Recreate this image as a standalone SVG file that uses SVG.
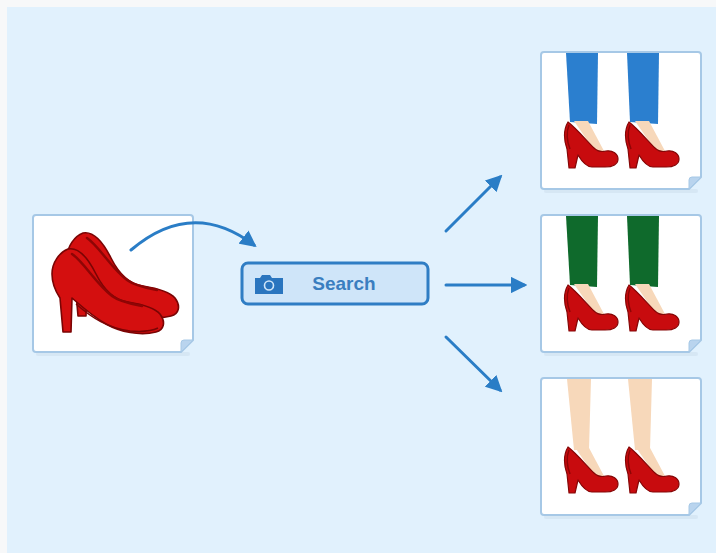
<svg xmlns="http://www.w3.org/2000/svg" xmlns:xlink="http://www.w3.org/1999/xlink" width="716" height="553" viewBox="0 0 716 553">
  <style>
    .card { fill: #ffffff; stroke: #a6c8e6; stroke-width: 2; }
    .fold { fill: #b9d4ee; stroke: #a6c8e6; stroke-width: 1; }
    .shadow { fill: #c9dbe9; opacity: 0.45; }
    .pump { fill: #c80b0e; stroke: #850606; stroke-width: 1.2; stroke-linejoin: round; }
    .pair { fill: #d40f0f; stroke: #7a0404; stroke-width: 1.6; stroke-linejoin: round; }
    .inner { fill: none; stroke: #8e0505; stroke-width: 2.5; stroke-linecap: round; }
    .skin { fill: #f7d8ba; }
    .link { fill: none; stroke: #2a7dc6; stroke-width: 3; stroke-linecap: round; }
    .label { font-family: "Liberation Sans", Arial, sans-serif; font-weight: bold; font-size: 19px; fill: #3a7ec0; }
  </style>
  <defs>
    <!-- page-shaped card, 160 x 137, folded bottom-right corner -->
    <g id="card">
      <rect class="shadow" x="3" y="137" width="154" height="4" rx="2"/>
      <path class="card" d="M3,0 H157 Q160,0 160,3 V125 L148,137 H3 Q0,137 0,134 V3 Q0,0 3,0 Z"/>
      <path class="fold" d="M160,125 L148,137 L148,128 Q148,125 151,125 Z"/>
    </g>
    <!-- single pump, side view, toe to the right -->
    <g id="pump">
      <polygon class="skin" points="12,-1 26,-1 42,29 34,31"/>
      <path class="pump" d="M6,0 C14,6 24,18 32,26 C36,30 40,30 44,29 C51,28 56,32 56,37 C56,42 51,45 43,45 L30,45 C24,45 19,38 16,33 L13,46 L7,46 L5,27 C2,19 1,8 6,0 Z"/>
      <path d="M7,3 C4,10 5,20 8,27" fill="none" stroke="#8e0505" stroke-width="1.5"/>
    </g>
    <marker id="head" viewBox="0 0 10 10" refX="8" refY="5" markerWidth="5.5" markerHeight="5.5" orient="auto" markerUnits="strokeWidth">
      <path d="M0,0 L10,5 L0,10 Z" fill="#2a7dc6"/>
    </marker>
  </defs>

  <!-- backdrop -->
  <rect x="0" y="0" width="716" height="553" fill="#f7f8f9"/>
  <rect x="7" y="7" width="709" height="546" fill="#e1f1fd"/>

  <!-- source image: pair of red pumps -->
  <g id="source">
    <use xlink:href="#card" transform="translate(33,215)"/>
    <g transform="translate(15,-16)">
      <path class="pair" d="M68,249 C60,252 52,262 52,274 C52,284 56,292 60,298 L63,332 L71,332 L72,298 C80,305 92,316 106,324 C120,332 140,336 156,332 C164,330 166,322 160,314 C154,307 140,304 128,302 C114,300 104,290 96,274 C88,258 78,247 68,249 Z"/>
      <path class="inner" d="M72,254 C84,262 96,284 112,296 C120,302 132,304 142,306"/>
    </g>
    <path class="pair" d="M68,249 C60,252 52,262 52,274 C52,284 56,292 60,298 L63,332 L71,332 L72,298 C80,305 92,316 106,324 C120,332 140,336 156,332 C164,330 166,322 160,314 C154,307 140,304 128,302 C114,300 104,290 96,274 C88,258 78,247 68,249 Z"/>
    <path class="inner" d="M72,254 C84,262 96,284 112,296 C120,302 132,304 142,306"/>
    <path d="M76,304 C92,318 108,328 130,331 C142,332 152,331 158,328" fill="none" stroke="#7a0404" stroke-width="1.5"/>
  </g>

  <!-- search box -->
  <g id="search">
    <rect x="242" y="263" width="186" height="41" rx="6" fill="#cfe5f9" stroke="#2f7dc4" stroke-width="3"/>
    <path d="M255,278 H260 L262,275 H270 L272,278 H283 V294 H255 Z" fill="#2a75bf"/>
    <circle cx="269" cy="285.5" r="4.5" fill="none" stroke="#cfe5f9" stroke-width="1.6"/>
    <text class="label" x="344" y="289.5" text-anchor="middle">Search</text>
  </g>

  <!-- result 1: blue trousers -->
  <g id="result-blue">
    <use xlink:href="#card" transform="translate(541,52)"/>
    <polygon points="566,53 598,53 597,124 570,122" fill="#2b7fcf"/>
    <polygon points="627,53 659,53 658,124 630,122" fill="#2b7fcf"/>
    <use xlink:href="#pump" transform="translate(562,122)"/>
    <use xlink:href="#pump" transform="translate(623,122)"/>
  </g>

  <!-- result 2: green trousers -->
  <g id="result-green">
    <use xlink:href="#card" transform="translate(541,215)"/>
    <polygon points="566,216 598,216 597,287 570,285" fill="#0f6a2c"/>
    <polygon points="627,216 659,216 658,287 630,285" fill="#0f6a2c"/>
    <use xlink:href="#pump" transform="translate(562,285)"/>
    <use xlink:href="#pump" transform="translate(623,285)"/>
  </g>

  <!-- result 3: bare legs -->
  <g id="result-legs">
    <use xlink:href="#card" transform="translate(541,378)"/>
    <polygon class="skin" points="567,379 591,379 589,450 574,450"/>
    <polygon class="skin" points="628,379 652,379 650,450 635,450"/>
    <use xlink:href="#pump" transform="translate(562,447)"/>
    <use xlink:href="#pump" transform="translate(623,447)"/>
  </g>

  <!-- connectors -->
  <g id="connectors">
    <path class="link" d="M131,250 Q192,198 254,245" marker-end="url(#head)"/>
    <line class="link" x1="446" y1="231" x2="500" y2="177" marker-end="url(#head)"/>
    <line class="link" x1="446" y1="285" x2="524" y2="285" marker-end="url(#head)"/>
    <line class="link" x1="446" y1="337" x2="500" y2="390" marker-end="url(#head)"/>
  </g>
</svg>
